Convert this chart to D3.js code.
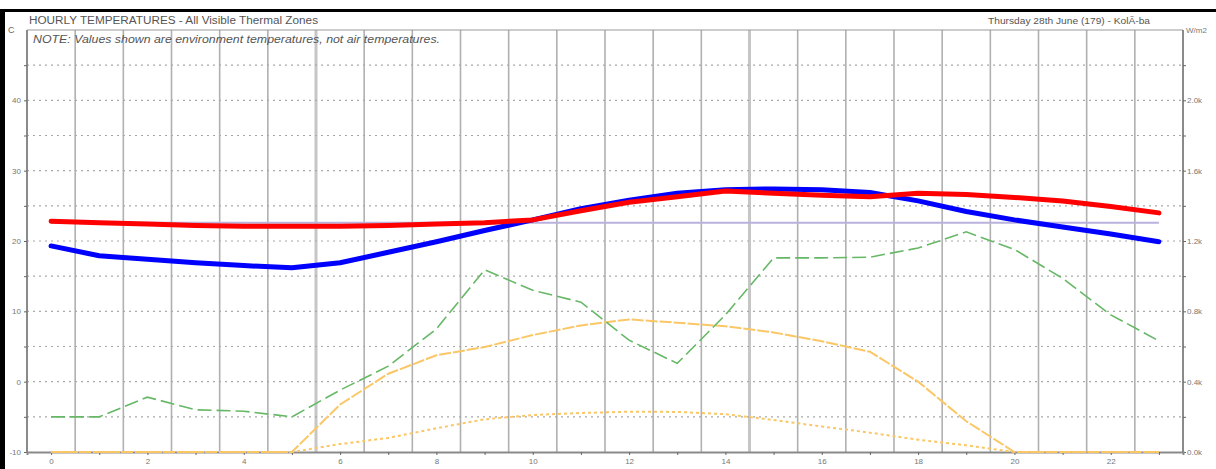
<!DOCTYPE html>
<html>
<head>
<meta charset="utf-8">
<script src="https://cdn.jsdelivr.net/npm/d3@7"></script>
<style>
  html, body { margin: 0; padding: 0; background: #fff; }
  svg { display: block; }
  text { font-family: "Liberation Sans", Arial, sans-serif; }
</style>
</head>
<body>
<script>
// Hourly temperatures for all visible thermal zones (°C), plus solar radiation (W/m2)
const hours = d3.range(0, 24);
const xTickLabels = ["0", "2", "4", "6", "8", "10", "12", "14", "16", "18", "20", "22"];
const leftTickLabels = [-10, 0, 10, 20, 30, 40];
const rightTickLabels = ["0.0k", "0.4k", "0.8k", "1.2k", "1.6k", "2.0k"];

// Zone environment temperatures
const zoneBlue = [19.3, 17.9, 17.4, 16.9, 16.5, 16.2, 16.9, 18.4, 19.9, 21.5, 23.0, 24.6,
                  25.8, 26.8, 27.3, 27.4, 27.3, 26.9, 25.7, 24.2, 23.0, 22.0, 21.0, 19.9];
const zoneRed  = [22.8, 22.6, 22.4, 22.2, 22.1, 22.1, 22.1, 22.2, 22.4, 22.6, 23.0, 24.3,
                  25.5, 26.3, 27.1, 26.8, 26.5, 26.3, 26.8, 26.6, 26.2, 25.7, 24.9, 24.0];
// Comfort band reference (constant)
const comfortLine = [22.6, 22.6];
// Outside air temperature
const outside = [-5.0, -5.0, -2.2, -4.0, -4.2, -5.0, -1.2, 2.2, 7.5, 15.9, 13.0, 11.3,
                 5.9, 2.6, 9.5, 17.6, 17.6, 17.7, 19.0, 21.3, 18.8, 14.7, 9.5, 5.8];
// Solar radiation (W/m2): direct and diffuse
const solarDirect  = [0, 0, 0, 0, 0, 0, 270, 445, 550, 597, 665, 720,
                      754, 735, 715, 680, 630, 570, 400, 175, 0, 0, 0, 0];
const solarDiffuse = [0, 0, 0, 0, 0, 0, 45, 80, 135, 186, 210, 222,
                      229, 228, 215, 182, 145, 110, 70, 38, 0, 0, 0, 0];
// Hour dividers drawn heavier
const markedDividers = [5, 14];

const W = 1216, H = 469;
const svg = d3.select("body").append("svg").attr("width", W).attr("height", H);

svg.append("rect").attr("width", W).attr("height", H).attr("fill", "#fff");

const x = d3.scaleLinear().domain([-0.5, 23.5]).range([27, 1183]);
const y = d3.scaleLinear().domain([-10, 50]).range([452, 30]);
const yR = d3.scaleLinear().domain([0, 2400]).range([452, 30]);

// Vertical hour dividers
svg.append("g").selectAll("line")
  .data(d3.range(0, 23))
  .join("line")
  .attr("x1", d => x(d + 0.5)).attr("x2", d => x(d + 0.5))
  .attr("y1", y(50)).attr("y2", y(-10))
  .attr("stroke", d => markedDividers.includes(d) ? "#c6c6c6" : "#b0b0b0")
  .attr("stroke-width", d => markedDividers.includes(d) ? 3 : 1.6);

// Horizontal dotted grid
svg.append("g").selectAll("line")
  .data(d3.range(-5, 50, 5))
  .join("line")
  .attr("x1", x(-0.5)).attr("x2", x(23.5))
  .attr("y1", d => y(d)).attr("y2", d => y(d))
  .attr("stroke", "#a8a8a8").attr("stroke-width", 1.2)
  .attr("stroke-dasharray", "2,4");

// Frame
svg.append("line").attr("x1", x(-0.5)).attr("x2", x(23.5)).attr("y1", y(50)).attr("y2", y(50))
  .attr("stroke", "#9a9a9a").attr("stroke-width", 1.2);
svg.append("line").attr("x1", x(-0.5)).attr("x2", x(-0.5)).attr("y1", y(50)).attr("y2", y(-10))
  .attr("stroke", "#8a8a8a").attr("stroke-width", 2);
svg.append("line").attr("x1", x(23.5)).attr("x2", x(23.5)).attr("y1", y(50)).attr("y2", y(-10))
  .attr("stroke", "#8a8a8a").attr("stroke-width", 2);

// Left axis (°C)
const yAxis = d3.axisLeft(y).tickValues(d3.range(-10, 50, 5)).tickSize(3)
  .tickFormat(d => leftTickLabels.includes(d) ? String(d) : "");
const gl = svg.append("g").attr("transform", `translate(${x(-0.5)},0)`).call(yAxis);
gl.select(".domain").remove();
gl.selectAll("line").attr("stroke", "#666");
gl.selectAll("text").attr("font-size", 8).attr("fill", "#777").attr("x", -6);

// Right axis (W/m2)
const yAxisR = d3.axisRight(yR).tickValues(d3.range(0, 2400, 200)).tickSize(3)
  .tickFormat(d => d % 400 === 0 ? rightTickLabels[d / 400] : "");
const gr = svg.append("g").attr("transform", `translate(${x(23.5)},0)`).call(yAxisR);
gr.select(".domain").remove();
gr.selectAll("line").attr("stroke", "#666");
gr.selectAll("text").attr("font-size", 8).attr("fill", "#777").attr("x", 4);

// Bottom axis (hour of day)
const xAxis = d3.axisBottom(x).tickValues(hours).tickSize(3)
  .tickFormat(d => d % 2 === 0 ? xTickLabels[d / 2] : "");
const gb = svg.append("g").attr("transform", `translate(0,${y(-10)})`).call(xAxis);
gb.select(".domain").attr("stroke", "#8a8a8a").attr("stroke-width", 2);
gb.selectAll("line").attr("stroke", "#666");
gb.selectAll("text").attr("font-size", 8).attr("fill", "#777").attr("y", 6);

// Series
const lineT = d3.line().x((d, i) => x(hours[i])).y(d => y(d));
const lineR = d3.line().x((d, i) => x(hours[i])).y(d => yR(d));

svg.append("path").datum(solarDiffuse).attr("d", lineR)
  .attr("fill", "none").attr("stroke", "#fbc766").attr("stroke-width", 2)
  .attr("stroke-dasharray", "3,3");
svg.append("path").datum(solarDirect).attr("d", lineR)
  .attr("fill", "none").attr("stroke", "#fbc766").attr("stroke-width", 2)
  .attr("stroke-dasharray", "12,2");

svg.append("path").datum(outside).attr("d", lineT)
  .attr("fill", "none").attr("stroke", "#66b866").attr("stroke-width", 1.6)
  .attr("stroke-dasharray", "14,5");

svg.append("line")
  .attr("x1", x(0)).attr("x2", x(23))
  .attr("y1", y(comfortLine[0])).attr("y2", y(comfortLine[1]))
  .attr("stroke", "#b9b2dc").attr("stroke-width", 2);

svg.append("path").datum(zoneBlue).attr("d", lineT)
  .attr("fill", "none").attr("stroke", "#0000ff").attr("stroke-width", 5)
  .attr("stroke-linecap", "round").attr("stroke-linejoin", "round");
svg.append("path").datum(zoneRed).attr("d", lineT)
  .attr("fill", "none").attr("stroke", "#ff0000").attr("stroke-width", 5)
  .attr("stroke-linecap", "round").attr("stroke-linejoin", "round");

// Titles and units
svg.append("text").attr("x", 29).attr("y", 24).attr("font-size", 10).attr("fill", "#555")
  .attr("textLength", 289).attr("lengthAdjust", "spacingAndGlyphs")
  .text("HOURLY TEMPERATURES - All Visible Thermal Zones");
svg.append("text").attr("x", 33).attr("y", 43).attr("font-size", 10).attr("fill", "#555")
  .attr("font-style", "italic")
  .attr("textLength", 407).attr("lengthAdjust", "spacingAndGlyphs")
  .text("NOTE: Values shown are environment temperatures, not air temperatures.");
svg.append("text").attr("x", 988).attr("y", 24).attr("font-size", 9).attr("fill", "#555")
  .attr("textLength", 162).attr("lengthAdjust", "spacingAndGlyphs")
  .text("Thursday 28th June (179) - KolÃ-ba");
svg.append("text").attr("x", 8).attr("y", 33).attr("font-size", 9).attr("fill", "#666").text("C");
svg.append("text").attr("x", 1186).attr("y", 33).attr("font-size", 8).attr("fill", "#777").text("W/m2");

// Border bars
svg.append("rect").attr("x", 0).attr("y", 9).attr("width", W).attr("height", 3).attr("fill", "#000");
svg.append("rect").attr("x", 0).attr("y", 9).attr("width", 5).attr("height", H - 9).attr("fill", "#000");
</script>
</body>
</html>
